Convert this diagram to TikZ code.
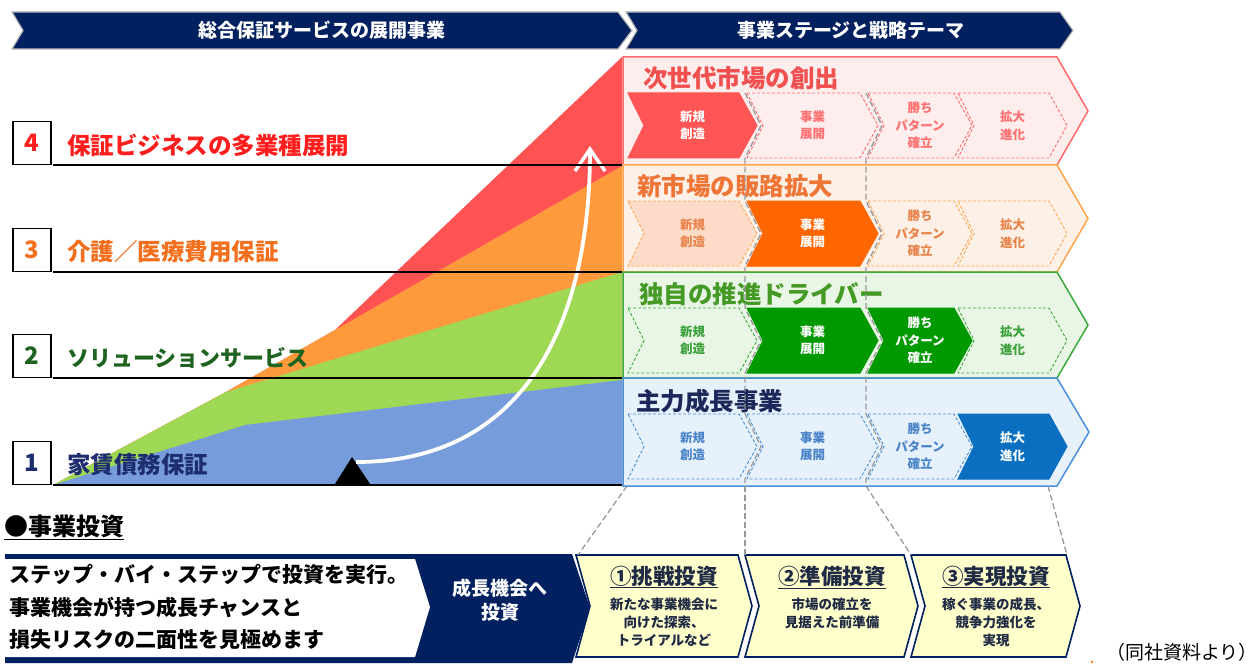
\documentclass[tikz,border=0pt]{standalone}
\usepackage{fontspec}
\setmainfont{Noto Sans CJK JP}
\usetikzlibrary{arrows.meta}
\definecolor{navy}{HTML}{002060}
\definecolor{rline}{HTML}{FF6B6B}\definecolor{rfill}{HTML}{FDEDED}\definecolor{rstrong}{HTML}{FF5555}\definecolor{rtxt}{HTML}{FF7070}\definecolor{rtitle}{HTML}{F24F4F}
\definecolor{oline}{HTML}{FFA64D}\definecolor{ofill}{HTML}{FDF0E7}\definecolor{ofill2}{HTML}{FCDCC8}\definecolor{ostrong}{HTML}{FF6600}\definecolor{otxt}{HTML}{E8834A}\definecolor{otitle}{HTML}{EE7535}
\definecolor{gline}{HTML}{3BAA3B}\definecolor{gfill}{HTML}{E9F6E6}\definecolor{gstrong}{HTML}{009A00}\definecolor{gtxt}{HTML}{3AA03A}\definecolor{gtitle}{HTML}{459A25}
\definecolor{bline}{HTML}{4A90D9}\definecolor{bfill}{HTML}{E7F1FB}\definecolor{bstrong}{HTML}{0A6FC0}\definecolor{btxt}{HTML}{4A84C8}\definecolor{btitle}{HTML}{1C2859}
\definecolor{cred}{HTML}{FF5252}\definecolor{corange}{HTML}{FF9A3C}\definecolor{cgreen}{HTML}{9ED855}\definecolor{cblue}{HTML}{779CDB}
\definecolor{lred}{HTML}{FF1E1E}\definecolor{lorange}{HTML}{F26F1E}\definecolor{lgreen}{HTML}{1E6420}\definecolor{lnavy}{HTML}{1E2D6E}
\definecolor{yfill}{HTML}{FFFFCC}\definecolor{dtxt}{HTML}{1F2A44}
\newcommand\subchev[7]{%
  \path[#4] (#1,#3+36) -- (#2-18,#3+36) -- (#2,#3+68.5) -- (#2-18,#3+101) -- (#1,#3+101) -- (#1+16,#3+68.5) -- cycle;
  \node[subtxt,text=#5] (#7) at ({(#1+#2)/2},#3+68.5) {#6};
}
\begin{document}
\begin{tikzpicture}[x=1pt,y=-1pt,
  banner/.style={fill=navy, draw=gray!55, line width=1.2pt},
  bantxt/.style={text=white, font=\bfseries\fontsize{19}{22}\selectfont},
  rowtitle/.style={anchor=west, font=\bfseries\fontsize{24.5}{26}\selectfont, inner sep=0pt},
  subtxt/.style={align=center, font=\bfseries\fontsize{12.5}{17.5}\selectfont, inner sep=0pt},
  solidsub/.style={line width=1pt},
  dashsub/.style={line width=0.9pt, densely dashed},
  gdash/.style={draw=gray!80, line width=1.3pt, dash pattern=on 6pt off 3pt},
  numbox/.style={draw=black, line width=1.4pt, minimum width=38pt, minimum height=43pt, inner sep=0pt, font=\bfseries\fontsize{24}{24}\selectfont},
  lbl/.style={anchor=west, inner sep=0pt, font=\bfseries\fontsize{23.5}{25}\selectfont},
  hline/.style={draw=black, line width=1.5pt},
  ybox/.style={fill=yfill, draw=navy, line width=1.6pt},
  ytitle/.style={font=\bfseries\fontsize{21.5}{23}\selectfont, text=dtxt, inner sep=0pt},
  ydesc/.style={align=center, font=\bfseries\fontsize{13.5}{18}\selectfont, text=dtxt, inner sep=0pt},
]
\useasboundingbox (0,0) rectangle (1259,666);

% ---------- top banners
\draw[banner] (12,12) -- (618,12) -- (632,30.5) -- (618,49) -- (12,49) -- (23,30.5) -- cycle;
\draw[banner] (626,12) -- (1060,12) -- (1073,30.5) -- (1060,49) -- (626,49) -- (637,30.5) -- cycle;
\node[bantxt] (bl) at (322,30.5) {総合保証サービスの展開事業};
\node[bantxt] (br) at (851,30.5) {事業ステージと戦略テーマ};

% ---------- chart areas
\fill[cred] (53,485) -- (226,392) -- (335,330) -- (622,57) -- (622,485) -- cycle;
\fill[corange] (53,485) -- (226,392) -- (335,330) -- (622,166) -- (622,485) -- cycle;
\fill[cgreen] (53,485) -- (226,392) -- (622,272) -- (622,485) -- cycle;
\fill[cblue] (53,485) -- (245,425) -- (622,380) -- (622,485) -- cycle;

% black triangle and white arrow
\fill[black] (335,484) -- (352,457) -- (370,484) -- cycle;
\coordinate (astart) at (356,462);
\coordinate (aend) at (590,146);
\draw[white, line width=3.8pt, -{Straight Barb[length=22pt,width=30pt,line width=3.5pt]}]
  (astart) .. controls (520,462) and (590,330) .. (aend);

% horizontal lines and labels
\foreach \yy/\n/\c/\t in {165/4/lred/保証ビジネスの多業種展開, 272/3/lorange/介護／医療費用保証, 485/1/lnavy/家賃債務保証}{
  \draw[hline] (53,\yy) -- (622,\yy);
  \node[numbox, text=\c] (n\n) at (32,\yy-22) {\n};
  \node[lbl, text=\c] (l\n) at (67,\yy-20) {\t};
}
\draw[hline] (53,378) -- (622,378);
\node[numbox, text=lgreen] (n2) at (32,356) {2};
\node[lbl, text=lgreen, font=\bfseries\fontsize{22}{25}\selectfont] (l2) at (67,358) {ソリューションサービス};

% ---------- right panel rows
\draw[draw=rline, fill=rfill, line width=1.5pt] (623,57) -- (1057,57) -- (1088,111) -- (1057,165) -- (623,165) -- cycle;
\draw[draw=oline, fill=ofill, line width=1.5pt] (623,165) -- (1057,165) -- (1088,218.5) -- (1057,272) -- (623,272) -- cycle;
\draw[draw=gline, fill=gfill, line width=1.5pt] (623,272) -- (1057,272) -- (1088,325) -- (1057,378) -- (623,378) -- cycle;
\draw[draw=bline, fill=bfill, line width=1.5pt] (623,378) -- (1057,378) -- (1089,432) -- (1057,486) -- (623,486) -- cycle;

\node[rowtitle, text=rtitle] (t1) at (643,78) {次世代市場の創出};
\node[rowtitle, text=otitle] (t2) at (637,186) {新市場の販路拡大};
\node[rowtitle, text=gtitle] (t3) at (639,294) {独自の推進ドライバー};
\node[rowtitle, text=btitle] (t4) at (636,401) {主力成長事業};

% row 1
\subchev{628}{757}{57}{fill=rstrong,draw=rstrong,solidsub}{white}{新規\\創造}{s11}
\subchev{747}{878}{57}{fill=rfill,draw=rline,dashsub}{rtxt}{事業\\展開}{s12}
\subchev{868}{972}{57}{fill=rfill,draw=rline,dashsub}{rtxt}{勝ち\\パターン\\確立}{s13}
\subchev{958}{1067}{57}{fill=rfill,draw=rline,dashsub}{rtxt}{拡大\\進化}{s14}
% row 2
\subchev{628}{757}{165}{fill=ofill2,draw=oline,dashsub}{otxt}{新規\\創造}{s21}
\subchev{747}{878}{165}{fill=ostrong,draw=ostrong,solidsub}{white}{事業\\展開}{s22}
\subchev{868}{972}{165}{fill=ofill,draw=oline,dashsub}{otxt}{勝ち\\パターン\\確立}{s23}
\subchev{958}{1067}{165}{fill=ofill,draw=oline,dashsub}{otxt}{拡大\\進化}{s24}
% row 3
\subchev{628}{757}{272}{fill=gfill,draw=gline,dashsub}{gtxt}{新規\\創造}{s31}
\subchev{747}{878}{272}{fill=gstrong,draw=gstrong,solidsub}{white}{事業\\展開}{s32}
\subchev{868}{972}{272}{fill=gstrong,draw=gstrong,solidsub}{white}{勝ち\\パターン\\確立}{s33}
\subchev{958}{1067}{272}{fill=gfill,draw=gline,dashsub}{gtxt}{拡大\\進化}{s34}
% row 4
\subchev{628}{757}{378}{fill=bfill,draw=bline,dashsub}{btxt}{新規\\創造}{s41}
\subchev{747}{878}{378}{fill=bfill,draw=bline,dashsub}{btxt}{事業\\展開}{s42}
\subchev{868}{972}{378}{fill=bfill,draw=bline,dashsub}{btxt}{勝ち\\パターン\\確立}{s43}
\subchev{958}{1067}{378}{fill=bstrong,draw=bstrong,solidsub}{white}{拡大\\進化}{s44}

% gray dashed stage boundaries
\foreach \xx in {745,866}{
  \draw[gdash] (\xx,93) -- (\xx+16,125.5) -- (\xx,158) -- (\xx,201) -- (\xx+16,233.5) -- (\xx,266)
    -- (\xx,308) -- (\xx+16,340.5) -- (\xx,373) -- (\xx,414) -- (\xx+16,446.5) -- (\xx,479) -- (\xx,486);
}

% ---------- bottom section
\node[anchor=west, inner sep=0pt, font=\bfseries\fontsize{24}{26}\selectfont] (inv) at (4,527) {\underline{●事業投資}};

\fill[navy] (5,554) -- (572,554) -- (590,608) -- (572,663) -- (5,663) -- cycle;
\fill[white] (5,559) -- (415,559) -- (430,607) -- (415,657) -- (5,657) -- cycle;
\node[anchor=west, align=left, inner sep=0pt, font=\bfseries\fontsize{21}{32.5}\selectfont] (desc) at (9,607)
  {ステップ・バイ・ステップで投資を実行。\\事業機会が持つ成長チャンスと\\損失リスクの二面性を見極めます};
\node[align=center, text=white, inner sep=0pt, font=\bfseries\fontsize{19}{24}\selectfont] (grow) at (500,600) {成長機会へ\\投資};

% yellow boxes
\draw[ybox] (576,555) -- (738,555) -- (752,606) -- (738,657) -- (576,657) -- (590,606) -- cycle;
\draw[ybox] (745,555) -- (904,555) -- (918,606) -- (904,657) -- (745,657) -- (759,606) -- cycle;
\draw[ybox] (911,555) -- (1066,555) -- (1080,606) -- (1066,657) -- (911,657) -- (925,606) -- cycle;
\node[ytitle] (y1) at (664,577) {\underline{①挑戦投資}};
\node[ytitle] (y2) at (832,577) {\underline{②準備投資}};
\node[ytitle] (y3) at (996,577) {\underline{③実現投資}};
\node[ydesc, anchor=north] (d1) at (664,598) {新たな事業機会に\\向けた探索、\\トライアルなど};
\node[ydesc, anchor=north] (d2) at (832,598) {市場の確立を\\見据えた前準備};
\node[ydesc, anchor=north] (d3) at (996,598) {稼ぐ事業の成長、\\競争力強化を\\実現};

% dashed connectors from panel to boxes
\coordinate (p1) at (627,486); \coordinate (q1) at (578,555);
\coordinate (p2) at (745,486); \coordinate (q2) at (745,555);
\coordinate (p3) at (866,486); \coordinate (q3) at (911,555);
\coordinate (p4) at (1048,486); \coordinate (q4) at (1067,555);
\foreach \i in {1,2,3,4}{ \draw[gdash] (p\i) -- (q\i); }

% source note
\fill[orange] (1092,662) circle (1.3pt);
\node[anchor=east, inner sep=0pt, font=\fontsize{19}{22}\selectfont] (src) at (1258,652) {（同社資料より）};
\end{tikzpicture}
\end{document}
